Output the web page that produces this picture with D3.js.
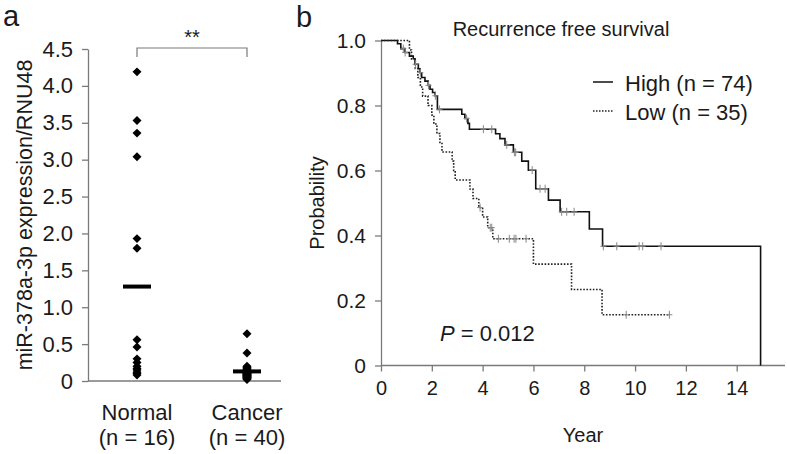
<!DOCTYPE html>
<html><head><meta charset="utf-8">
<script src="https://cdn.jsdelivr.net/npm/d3@7"></script>
<style>
body{margin:0;background:#fff;}
text{font-family:"Liberation Sans",Arial,sans-serif;fill:#1a1a1a;}
</style></head><body>
<svg id="c" width="787" height="454"></svg>
<script>
// ---------- Panel a data ----------
const groups = ["Normal", "Cancer"];
const groupN = ["(n = 16)", "(n = 40)"];
const normalValues = [4.19, 3.53, 3.36, 3.04, 1.93, 1.80, 0.56, 0.46, 0.30, 0.25, 0.20, 0.17, 0.15, 0.12, 0.10, 0.08];
const cancerValues = [0.64, 0.38, 0.20, 0.19, 0.18, 0.17, 0.16, 0.15, 0.15, 0.14, 0.14, 0.13, 0.13, 0.12, 0.12, 0.11, 0.11, 0.10, 0.10, 0.10,
                      0.09, 0.09, 0.09, 0.08, 0.08, 0.08, 0.07, 0.07, 0.07, 0.06, 0.06, 0.06, 0.05, 0.05, 0.05, 0.04, 0.04, 0.03, 0.03, 0.02];
const groupMeans = [1.28, 0.13];
const yTicksA = [0, 0.5, 1.0, 1.5, 2.0, 2.5, 3.0, 3.5, 4.0, 4.5];
const yTickLabelsA = ["0", "0.5", "1.0", "1.5", "2.0", "2.5", "3.0", "3.5", "4.0", "4.5"];

// ---------- Panel b data ----------
const highTimes = [0, 0.65, 0.78, 0.94, 1.12, 1.27, 1.34, 1.47, 1.54, 1.6, 1.73, 1.86, 1.93, 2.03, 2.13, 2.22, 3.18, 3.3, 3.42, 3.48, 4.51, 4.68, 4.88, 5.21, 5.54, 5.8, 6.09, 6.59, 7.05, 8.2, 8.72, 14.94];
const highSurv  = [1, 0.99, 0.975, 0.963, 0.952, 0.944, 0.927, 0.913, 0.901, 0.886, 0.875, 0.862, 0.85, 0.84, 0.83, 0.788, 0.773, 0.76, 0.745, 0.727, 0.713, 0.698, 0.679, 0.656, 0.629, 0.601, 0.544, 0.509, 0.473, 0.42, 0.367, 0];
const highEnd = 14.94;
const highCensor = [0.88, 0.95, 1.36, 1.55, 1.87, 2.14, 2.3, 3.37, 4.03, 4.36, 4.95, 5.25, 5.3, 5.95, 6.26, 6.46, 7.11, 7.31, 7.6, 8.75, 9.28, 10.16, 10.3, 11.02];
const lowTimes = [0, 1.12, 1.2, 1.35, 1.45, 1.55, 1.64, 1.85, 2.0, 2.08, 2.2, 2.32, 2.4, 2.8, 2.86, 2.92, 3.5, 3.62, 3.85, 4.0, 4.2, 4.4, 6.0, 7.5, 8.7];
const lowSurv  = [1, 0.971, 0.943, 0.914, 0.886, 0.857, 0.829, 0.80, 0.771, 0.743, 0.714, 0.686, 0.657, 0.629, 0.60, 0.571, 0.543, 0.514, 0.486, 0.457, 0.424, 0.39, 0.312, 0.234, 0.156];
const lowEnd = 11.35;
const lowCensor = [3.9, 4.3, 4.36, 4.62, 5.05, 5.24, 5.31, 5.71, 9.65, 11.35];
const xTicksB = [0, 2, 4, 6, 8, 10, 12, 14];
const yTicksB = [0, 0.2, 0.4, 0.6, 0.8, 1.0];
const yTickLabelsB = ["0", "0.2", "0.4", "0.6", "0.8", "1.0"];

const svg = d3.select("#c");
const axisColor = "#7a7a7a";

// ================= Panel a =================
const ya = d3.scaleLinear().domain([0, 4.5]).range([381, 49]);
const xa = d3.scalePoint().domain(groups).range([137, 247]);

svg.append("text").attr("x", 3).attr("y", 26).attr("font-size", 29).text("a");

// y axis
const gya = svg.append("g").attr("transform", "translate(88,0)")
  .call(d3.axisLeft(ya).tickValues(yTicksA).tickFormat((d, i) => yTickLabelsA[i]).tickSize(6).tickSizeOuter(0).tickPadding(9));
gya.select(".domain").attr("stroke", axisColor).attr("stroke-width", 1.3);
gya.selectAll(".tick line").attr("stroke", axisColor).attr("stroke-width", 1.3);
gya.selectAll(".tick text").attr("font-size", 22).attr("fill", "#1a1a1a").attr("font-family", "Liberation Sans, Arial, sans-serif");

// x baseline
svg.append("line").attr("x1", 88).attr("x2", 281).attr("y1", ya(0)).attr("y2", ya(0))
  .attr("stroke", axisColor).attr("stroke-width", 1.3);

// y label
svg.append("text").attr("transform", `translate(32,${(ya(0) + ya(4.5)) / 2}) rotate(-90)`)
  .attr("text-anchor", "middle").attr("font-size", 21.5).text("miR-378a-3p expression/RNU48");

// category labels
groups.forEach((g, i) => {
  svg.append("text").attr("x", xa(g)).attr("y", 420).attr("text-anchor", "middle").attr("font-size", 22).text(g);
  svg.append("text").attr("x", xa(g)).attr("y", 445).attr("text-anchor", "middle").attr("font-size", 22).text(groupN[i]);
});

// significance bracket
svg.append("path")
  .attr("d", `M${xa("Normal")},57 V48 H${xa("Cancer")} V57`)
  .attr("fill", "none").attr("stroke", axisColor).attr("stroke-width", 1.2);
svg.append("text").attr("x", (xa("Normal") + xa("Cancer")) / 2).attr("y", 44)
  .attr("text-anchor", "middle").attr("font-size", 20).attr("fill", "#555").text("**");

// points
const diamond = d3.symbol().type(d3.symbolSquare).size(40);
const pts = [];
normalValues.forEach(v => pts.push({g: "Normal", v}));
cancerValues.forEach(v => pts.push({g: "Cancer", v}));
svg.append("g").selectAll("path").data(pts).join("path")
  .attr("d", diamond)
  .attr("transform", d => `translate(${xa(d.g)},${ya(d.v)}) rotate(45)`)
  .attr("fill", "#000");

// mean bars
svg.append("g").selectAll("rect").data(groups).join("rect")
  .attr("x", d => xa(d) - 14).attr("width", 28)
  .attr("y", (d, i) => ya(groupMeans[i]) - 2).attr("height", 4)
  .attr("fill", "#000");

// ================= Panel b =================
const xb = d3.scaleLinear().domain([0, 14]).range([381, 736.7]);
const yb = d3.scaleLinear().domain([0, 1]).range([365.5, 40.5]);

svg.append("text").attr("x", 296).attr("y", 27).attr("font-size", 29).text("b");
svg.append("text").attr("x", 561).attr("y", 36).attr("text-anchor", "middle").attr("font-size", 20).text("Recurrence free survival");

// axes
const gxb = svg.append("g").attr("transform", `translate(0,${yb(0)})`)
  .call(d3.axisBottom(xb).tickValues(xTicksB).tickSize(6).tickSizeOuter(0).tickPadding(9));
gxb.select(".domain").remove();
gxb.selectAll(".tick line").attr("stroke", axisColor).attr("stroke-width", 1.3);
gxb.selectAll(".tick text").attr("font-size", 20).attr("fill", "#1a1a1a").attr("font-family", "Liberation Sans, Arial, sans-serif");
svg.append("line").attr("x1", xb(0)).attr("x2", xb(15.9)).attr("y1", yb(0)).attr("y2", yb(0))
  .attr("stroke", axisColor).attr("stroke-width", 1.3);

const gyb = svg.append("g").attr("transform", `translate(${xb(0)},0)`)
  .call(d3.axisLeft(yb).tickValues(yTicksB).tickFormat((d, i) => yTickLabelsB[i]).tickSize(6).tickSizeOuter(0).tickPadding(9));
gyb.select(".domain").attr("stroke", axisColor).attr("stroke-width", 1.3);
gyb.selectAll(".tick line").attr("stroke", axisColor).attr("stroke-width", 1.3);
gyb.selectAll(".tick text").attr("font-size", 21).attr("fill", "#1a1a1a").attr("font-family", "Liberation Sans, Arial, sans-serif");

svg.append("text").attr("transform", `translate(324,${(yb(0) + yb(1)) / 2}) rotate(-90)`)
  .attr("text-anchor", "middle").attr("font-size", 20).text("Probability");
svg.append("text").attr("x", xb(0) + (xb(15.9) - xb(0)) / 2).attr("y", 442).attr("text-anchor", "middle").attr("font-size", 20).text("Year");

// KM curves
function stepData(times, surv, end) {
  const d = times.map((t, i) => ({t, s: surv[i]}));
  if (end > times[times.length - 1]) d.push({t: end, s: surv[surv.length - 1]});
  return d;
}
function survAt(times, surv, t) {
  let s = surv[0];
  for (let i = 0; i < times.length; i++) if (times[i] <= t) s = surv[i];
  return s;
}
const line = d3.line().x(d => xb(d.t)).y(d => yb(d.s)).curve(d3.curveStepAfter);

svg.append("path").datum(stepData(highTimes, highSurv, highEnd)).attr("d", line)
  .attr("fill", "none").attr("stroke", "#111").attr("stroke-width", 1.6);
svg.append("path").datum(stepData(lowTimes, lowSurv, lowEnd)).attr("d", line)
  .attr("fill", "none").attr("stroke", "#222").attr("stroke-width", 1.6).attr("stroke-dasharray", "1.6,1.6");

// censor marks
function censor(times, surv, cens) {
  const g = svg.append("g").attr("stroke", "#888").attr("stroke-width", 1);
  cens.forEach(t => {
    const x = xb(t), y = yb(survAt(times, surv, t));
    g.append("line").attr("x1", x).attr("x2", x).attr("y1", y - 4).attr("y2", y + 4);
    g.append("line").attr("x1", x - 3).attr("x2", x + 3).attr("y1", y).attr("y2", y);
  });
}
censor(highTimes, highSurv, highCensor);
censor(lowTimes, lowSurv, lowCensor);

// legend
svg.append("line").attr("x1", 593).attr("x2", 613).attr("y1", 82).attr("y2", 82).attr("stroke", "#111").attr("stroke-width", 1.5);
svg.append("text").attr("x", 625).attr("y", 91).attr("font-size", 22).text("High (n = 74)");
svg.append("line").attr("x1", 593).attr("x2", 613).attr("y1", 111).attr("y2", 111).attr("stroke", "#222").attr("stroke-width", 1.5).attr("stroke-dasharray", "1.5,1.5");
svg.append("text").attr("x", 625).attr("y", 120).attr("font-size", 22).text("Low (n = 35)");

// P value
const pt = svg.append("text").attr("x", 440).attr("y", 341).attr("font-size", 22);
pt.append("tspan").attr("font-style", "italic").text("P");
pt.append("tspan").text(" = 0.012");
</script>
</body></html>
